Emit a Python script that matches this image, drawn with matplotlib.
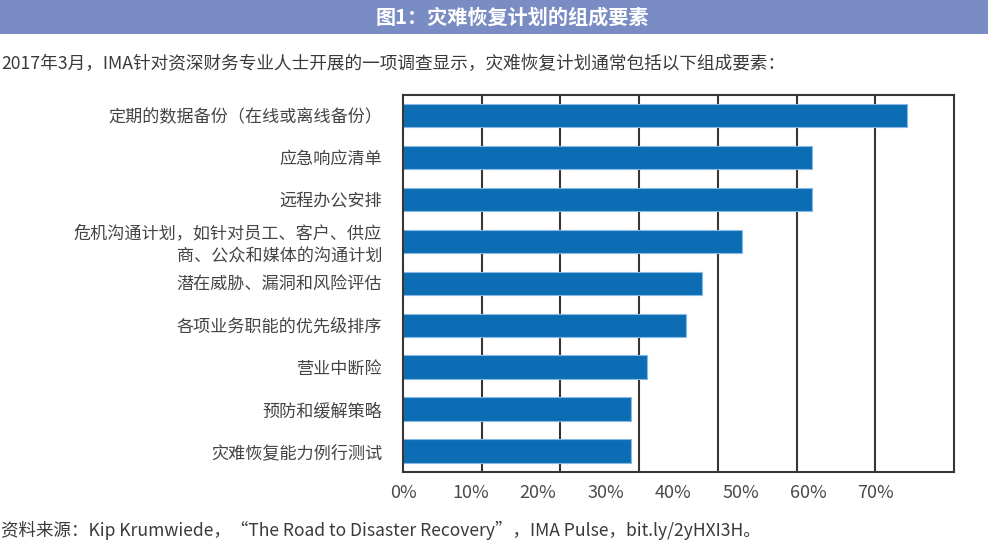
import numpy as np
import matplotlib
matplotlib.use("Agg")
import matplotlib.pyplot as plt
from matplotlib.patches import Rectangle

plt.rcParams['font.family'] = ['Noto Sans CJK SC', 'DejaVu Sans']

categories = [
    "定期的数据备份（在线或离线备份）",
    "应急响应清单",
    "远程办公安排",
    "危机沟通计划，如针对员工、客户、供应\n商、公众和媒体的沟通计划",
    "潜在威胁、漏洞和风险评估",
    "各项业务职能的优先级排序",
    "营业中断险",
    "预防和缓解策略",
    "灾难恢复能力例行测试",
]
values = [74.6, 60.6, 60.6, 50.2, 44.3, 41.9, 36.1, 33.7, 33.7]
tick_values = [0, 10, 20, 30, 40, 50, 60, 70]
tick_labels = ["0%", "10%", "20%", "30%", "40%", "50%", "60%", "70%"]

title = "图1：灾难恢复计划的组成要素"
subtitle = "2017年3月，IMA针对资深财务专业人士开展的一项调查显示，灾难恢复计划通常包括以下组成要素："
source = "资料来源：Kip Krumwiede，“The Road to Disaster Recovery”，IMA Pulse，bit.ly/2yHXI3H。"

W, H = 988, 551
fig = plt.figure(figsize=(W / 100, H / 100), dpi=100)

# title bar
fig.patches.append(Rectangle((0, 1 - 34 / H), 1, 34 / H, transform=fig.transFigure,
                             facecolor="#7a8cc4", edgecolor="none", zorder=0))
fig.text(512 / W, 1 - 17 / H, title, color="white", fontsize=14.5, fontweight="bold",
         ha="center", va="center")
fig.text(1 / W, 1 - 64 / H, subtitle, color="#3a3a3a", fontsize=12.7, ha="left", va="center")
fig.text(1 / W, 1 - 530 / H, source, color="#3a3a3a", fontsize=12.6, ha="left", va="center")

ax = fig.add_axes([403 / W, 1 - 472 / H, 551 / W, 377 / H])
y = np.arange(len(categories))
ax.barh(y, values, height=0.55, color="#0c6db5", edgecolor="#86b8e3", linewidth=0.8, zorder=2)

xmax = 81.55
ax.set_xlim(0, xmax)
ax.set_ylim(len(categories) - 0.5, -0.48)

ax.set_xticks(tick_values)
ax.set_xticklabels(tick_labels, fontsize=13, color="#4a4a4a")
ax.set_xticks(np.linspace(0, xmax, 8)[1:-1], minor=True)
ax.grid(which="minor", axis="x", color="#3a3434", linewidth=1.5, zorder=1)
ax.grid(which="major", visible=False)
ax.set_axisbelow(True)

ax.set_yticks(y)
ax.set_yticklabels(categories, fontsize=12.3, color="#444444", linespacing=1.3)
ax.tick_params(axis="both", which="both", length=0)
ax.tick_params(axis="y", pad=15)
ax.tick_params(axis="x", pad=9)

for s in ax.spines.values():
    s.set_color("#3a3434")
    s.set_linewidth(1.5)

fig.savefig("out.png", dpi=100)
